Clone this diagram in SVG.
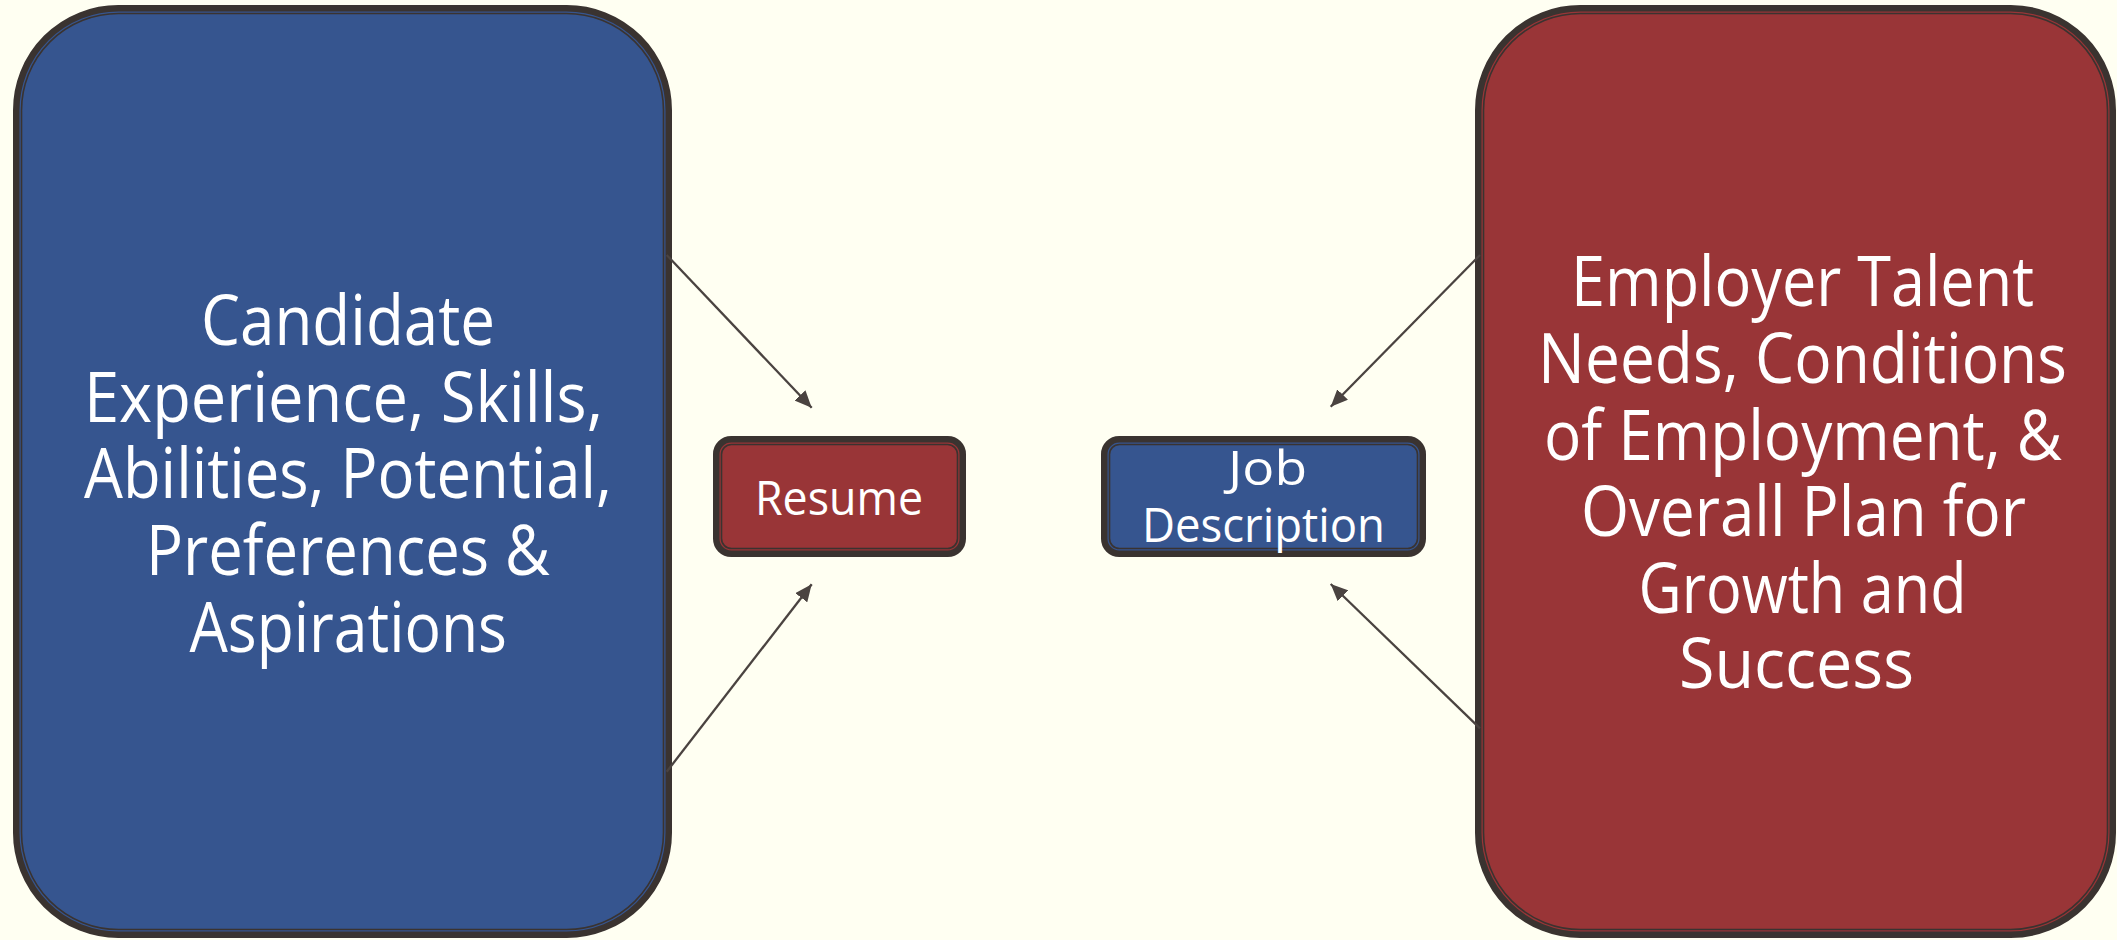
<svg xmlns="http://www.w3.org/2000/svg" width="2117" height="940" viewBox="0 0 2117 940">
  <defs>
    <style>
      .bg { fill: #FFFFF2; }
      .blue { fill: #36558F; }
      .red { fill: #993537; }
      .frame { stroke: #3A3330; stroke-width: 6.5; }
      .inner { fill: none; stroke: #3A3330; stroke-width: 1.6; }
      .label { fill: #FFFFFF; font-family: "Open Sans", "Liberation Sans", sans-serif; font-weight: 400; text-anchor: start; }
      .big { font-size: 69px; }
      .small { font-size: 47px; }
      .link { stroke: #4A4340; stroke-width: 2.3; fill: none; marker-end: url(#arrow); }
    </style>
    <marker id="arrow" markerUnits="userSpaceOnUse" markerWidth="19" markerHeight="15" refX="17" refY="7.5" orient="auto">
      <path d="M0,0 L17,7.5 L0,15 Z" fill="#4A4340"/>
    </marker>
  </defs>

  <rect class="bg" x="0" y="0" width="2117" height="940"/>

  <!-- Candidate profile -->
  <g id="candidate">
    <rect class="blue frame" x="16.25" y="8.25" width="652.5" height="926.5" rx="102"/>
    <rect class="inner" x="21.5" y="13.5" width="642" height="916" rx="97"/>
    <text class="label big">
      <tspan x="201" y="345" textLength="294" lengthAdjust="spacingAndGlyphs">Candidate</tspan>
      <tspan x="84" y="421.5" textLength="519" lengthAdjust="spacingAndGlyphs">Experience, Skills,</tspan>
      <tspan x="84" y="498" textLength="528" lengthAdjust="spacingAndGlyphs">Abilities, Potential,</tspan>
      <tspan x="146" y="575" textLength="404" lengthAdjust="spacingAndGlyphs">Preferences &amp;</tspan>
      <tspan x="189.5" y="651.5" textLength="317.5" lengthAdjust="spacingAndGlyphs">Aspirations</tspan>
    </text>
  </g>

  <!-- Resume -->
  <g id="resume">
    <rect class="red frame" x="716.25" y="439.25" width="246.5" height="114.5" rx="15"/>
    <rect class="inner" x="721.5" y="444.5" width="236" height="104" rx="10"/>
    <text class="label small" x="755" y="515" textLength="168" lengthAdjust="spacingAndGlyphs">Resume</text>
  </g>

  <!-- Job description -->
  <g id="job-description">
    <rect class="blue frame" x="1104.25" y="439.25" width="318.5" height="114.5" rx="15"/>
    <rect class="inner" x="1109.5" y="444.5" width="308" height="104" rx="10"/>
    <text class="label small">
      <tspan x="1228" y="485" textLength="79" lengthAdjust="spacingAndGlyphs">Job</tspan>
      <tspan x="1142" y="541.5" textLength="243" lengthAdjust="spacingAndGlyphs">Description</tspan>
    </text>
  </g>

  <!-- Employer needs -->
  <g id="employer">
    <rect class="red frame" x="1478.25" y="8.25" width="634.5" height="926.5" rx="102"/>
    <rect class="inner" x="1483.5" y="13.5" width="624" height="916" rx="97"/>
    <text class="label big">
      <tspan x="1571" y="306" textLength="463" lengthAdjust="spacingAndGlyphs">Employer Talent</tspan>
      <tspan x="1538" y="383" textLength="529" lengthAdjust="spacingAndGlyphs">Needs, Conditions</tspan>
      <tspan x="1544" y="460" textLength="518" lengthAdjust="spacingAndGlyphs">of Employment, &amp;</tspan>
      <tspan x="1581" y="535.5" textLength="445" lengthAdjust="spacingAndGlyphs">Overall Plan for</tspan>
      <tspan x="1638.5" y="612.5" textLength="328" lengthAdjust="spacingAndGlyphs">Growth and</tspan>
      <tspan x="1679" y="688" textLength="235" lengthAdjust="spacingAndGlyphs">Success</tspan>
    </text>
  </g>

  <!-- Connectors -->
  <g id="connectors">
    <line class="link" x1="666.7" y1="255" x2="811.7" y2="407.7"/>
    <line class="link" x1="666.7" y1="771.7" x2="811.7" y2="584.3"/>
    <line class="link" x1="1480" y1="255" x2="1330.7" y2="406.7"/>
    <line class="link" x1="1480" y1="728.3" x2="1330.7" y2="584"/>
  </g>
</svg>
